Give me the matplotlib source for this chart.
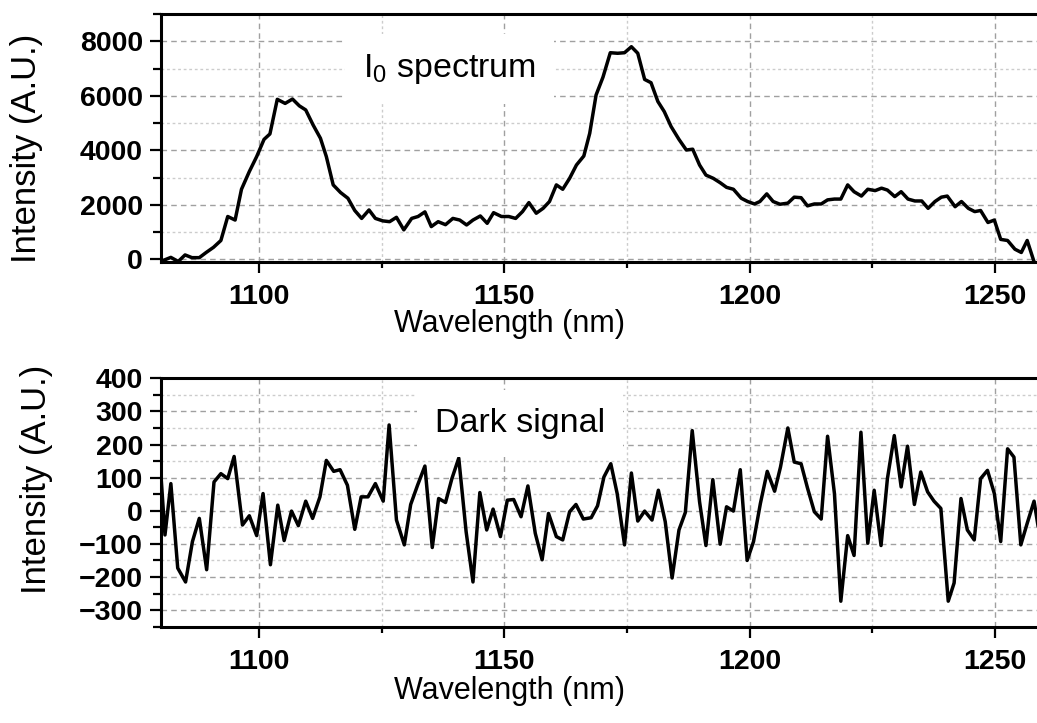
import matplotlib
matplotlib.use("Agg")
import matplotlib.pyplot as plt
from matplotlib.ticker import MultipleLocator

plt.rcParams['font.family'] = ['Liberation Sans', 'DejaVu Sans']
plt.rcParams['mathtext.fontset'] = 'custom'
plt.rcParams['mathtext.rm'] = 'Liberation Sans'

# I0 spectrum (top panel)
wl_i0 = [1080.2, 1082.0, 1083.5, 1084.9, 1086.3, 1087.8, 1089.2, 1090.7, 1092.2, 1093.6,
         1095.1, 1096.4, 1098.0, 1099.5, 1101.0, 1102.2, 1103.7, 1105.3, 1106.8, 1108.2,
         1109.5, 1111.0, 1112.5, 1113.7, 1115.1, 1116.6, 1118.1, 1119.5, 1120.9, 1122.4,
         1123.7, 1125.2, 1126.6, 1128.0, 1129.5, 1131.1, 1132.4, 1133.8, 1135.1, 1136.5,
         1138.0, 1139.5, 1140.9, 1142.3, 1143.6, 1145.1, 1146.5, 1147.8, 1149.4, 1150.9,
         1152.3, 1153.7, 1155.0, 1156.5, 1157.9, 1159.2, 1160.6, 1161.9, 1163.3, 1164.7,
         1166.2, 1167.4, 1168.7, 1170.1, 1171.6, 1173.1, 1174.5, 1175.9, 1177.2, 1178.6,
         1179.9, 1181.3, 1182.6, 1184.0, 1185.6, 1187.1, 1188.4, 1189.8, 1191.1, 1192.6,
         1194.0, 1195.3, 1196.7,
         1198.3, 1199.6, 1201.0, 1202.1, 1203.5, 1204.8, 1206.2, 1207.8, 1209.1, 1210.5,
         1211.8, 1213.2, 1214.6, 1215.9, 1217.3, 1218.6, 1220.0, 1221.3, 1222.8, 1224.1,
         1225.6, 1226.9, 1228.1, 1229.6, 1230.9, 1232.3, 1233.7, 1235.1, 1236.4, 1237.8,
         1239.1, 1240.3, 1241.9, 1243.2, 1244.6, 1245.9, 1247.1, 1248.6, 1249.9, 1251.2,
         1252.6, 1254.1, 1255.4, 1256.6, 1258.0, 1259.3]
i0 = [-60, 70, -80, 160, 60, 60, 250, 440, 690, 1570,
      1440, 2570, 3220, 3770, 4400, 4600, 5870, 5720, 5880, 5630,
      5480, 4930, 4440, 3770, 2730, 2450, 2240, 1790, 1500, 1810,
      1500, 1410, 1380, 1540, 1080, 1500, 1570, 1740, 1200, 1380,
      1270, 1500, 1440, 1260, 1440, 1590, 1320, 1710, 1570, 1570,
      1500, 1750, 2080, 1690, 1870, 2120, 2730, 2570, 2970, 3460,
      3790, 4620, 6030, 6680, 7580, 7560, 7580, 7800, 7560, 6600,
      6480, 5790, 5420, 4870, 4400, 4010, 4040, 3460, 3090, 2970,
      2810, 2640, 2570,
      2240, 2120, 2030, 2120, 2400, 2120, 2020, 2060, 2280, 2260,
      1960, 2030, 2030, 2180, 2210, 2210, 2730, 2480, 2320, 2570,
      2520, 2610, 2540, 2300, 2480, 2210, 2140, 2140, 1870, 2120,
      2280, 2320, 1930, 2120, 1870, 1750, 1790, 1350, 1440, 730,
      690, 370, 250, 690, -90, -300]

# dark signal (bottom panel)
wl_dark = [1079.6, 1080.8, 1082.0, 1083.4, 1085.0, 1086.4, 1087.8, 1089.3, 1090.8, 1092.2,
           1093.6, 1094.9, 1096.6, 1098.0, 1099.5, 1100.8, 1102.3, 1103.8, 1105.1, 1106.6,
           1108.0, 1109.5, 1110.9, 1112.4, 1113.7, 1115.2, 1116.5, 1118.0, 1119.5, 1120.8,
           1122.2, 1123.7,
           1125.3, 1126.5, 1128.0, 1129.6, 1130.9, 1132.3, 1133.8, 1135.3, 1136.6, 1138.0,
           1139.3, 1140.7, 1142.2, 1143.6, 1145.0, 1146.4, 1147.7, 1149.2, 1150.6, 1151.9,
           1153.4, 1154.8, 1156.3, 1157.7, 1159.0, 1160.6, 1161.9, 1163.3, 1164.6, 1166.1,
           1167.7, 1169.0,
           1170.3, 1171.7, 1173.0, 1174.5, 1175.9, 1177.2, 1178.6, 1180.1, 1181.4, 1182.8,
           1184.2, 1185.6, 1186.9, 1188.3, 1189.8, 1191.1, 1192.5, 1194.0, 1195.3, 1196.7,
           1198.1, 1199.5, 1200.8, 1202.2, 1203.6, 1205.1, 1206.3, 1207.8, 1209.1, 1210.5,
           1211.8, 1213.2,
           1214.6, 1215.9, 1217.3, 1218.6, 1220.0, 1221.3, 1222.7, 1224.1, 1225.4, 1226.8,
           1228.1, 1229.5, 1230.9, 1232.2, 1233.6, 1234.9, 1236.3, 1237.6, 1239.0, 1240.5,
           1241.7, 1243.1, 1244.4, 1245.8, 1247.1, 1248.5, 1249.9, 1251.2, 1252.6, 1253.9,
           1255.3, 1256.6, 1258.0, 1259.4]
dark = [190, -73, 82, -173, -215, -93, -23, -178, 87, 112,
        97, 164, -43, -15, -75, 52, -163, 17, -90, -1,
        -45, 29, -23, 42, 152, 119, 124, 77, -56, 42,
        42, 82,
        29, 259, -28, -103, 19, 77, 135, -111, 37, 25,
        97, 159, -63, -215, 55, -58, 5, -78, 32, 34,
        -18, 75, -68, -148, -8, -78, -88, -3, 19, -25,
        -21, 15,
        102, 142, 52, -103, 114, -31, -1, -28, 62, -33,
        -203, -58, -5, 242, 27, -105, 94, -101, 12, -1,
        124, -150, -93, 22, 119, 59, 132, 250, 147, 142,
        69, -3,
        -25, 225, 52, -273, -75, -135, 237, -98, 62, -105,
        97, 227, 72, 195, 19, 117, 57, 29, 7, -273,
        -218, 37, -58, -88, 97, 122, 52, -93, 187, 162,
        -103, -38, 29, -100]

fig = plt.figure(figsize=(10.37, 7.23), dpi=100)
ax1 = fig.add_axes([0.1553, 0.6376, 0.8447, 0.3430])
ax2 = fig.add_axes([0.1553, 0.1332, 0.8447, 0.3436])


def style(ax, ylim, ymaj, ymin):
    ax.set_xlim(1080, 1258.6)
    ax.set_ylim(*ylim)
    ax.xaxis.set_major_locator(MultipleLocator(50))
    ax.xaxis.set_minor_locator(MultipleLocator(25))
    ax.yaxis.set_major_locator(MultipleLocator(ymaj))
    ax.yaxis.set_minor_locator(MultipleLocator(ymin))
    ax.grid(which='major', color='#a0a0a0', ls=(0, (4, 3)), lw=1.0)
    ax.grid(which='minor', color='#cccccc', ls=(0, (2, 2)), lw=1.0)
    ax.set_axisbelow(True)
    for s in ['left', 'bottom', 'top']:
        ax.spines[s].set_linewidth(2.2)
    ax.spines['right'].set_visible(False)
    ax.tick_params(which='major', direction='out', length=8, width=1.6,
                   labelsize=20.5, pad=5)
    ax.tick_params(axis='x', which='major', pad=8)
    ax.tick_params(axis='x', which='minor', direction='out', length=4, width=1.6)
    ax.tick_params(axis='y', which='minor', direction='out', length=6, width=1.6)
    for lab in ax.get_xticklabels() + ax.get_yticklabels():
        lab.set_fontweight('bold')
    ax.set_xlabel("Wavelength (nm)", fontsize=22)
    ax.set_ylabel("Intensity (A.U.)", fontsize=25)


ax1.plot(wl_i0, i0, color='black', lw=2.5)
style(ax1, (-100, 9000), 2000, 1000)
ax1.xaxis.set_label_coords(0.398, -0.19)
ax1.yaxis.set_label_coords(-0.135, 0.46)
ax1.text(1121.1, 6702, r"I$_\mathrm{0}$ spectrum", fontsize=24.5, zorder=5,
         bbox=dict(facecolor='white', edgecolor='none', pad=13))

ax2.plot(wl_dark, dark, color='black', lw=2.5)
style(ax2, (-350, 400), 100, 50)
ax2.xaxis.set_label_coords(0.398, -0.198)
ax2.yaxis.set_label_coords(-0.123, 0.595)
ax2.text(1135.9, 238.7, "Dark signal", fontsize=24.5, zorder=5,
         bbox=dict(facecolor='white', edgecolor='none', pad=13))

fig.savefig("out.png", dpi=100)
